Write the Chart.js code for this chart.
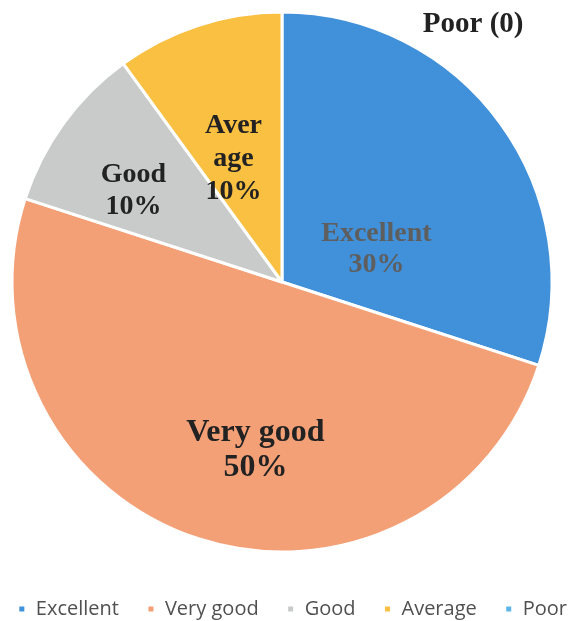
<!DOCTYPE html>
<html>
<head>
<meta charset="utf-8">
<script src="https://cdn.jsdelivr.net/npm/chart.js@4"></script>
<style>
  html, body { margin: 0; padding: 0; background: #fff; overflow: hidden; }
  /* canvas is a bit larger than the page so the pie and legend line up like the original */
  #wrap { position: absolute; left: -31px; top: -7px; width: 626px; height: 636px; }
</style>
</head>
<body>
<div id="wrap"><canvas id="myChart"></canvas></div>
<script>
const categories = ['Excellent', 'Very good', 'Good', 'Average', 'Poor'];
const shares = [30, 50, 10, 10, 0];
const colors = ['#4190DA', '#F4A077', '#C9CBCB', '#F9C042', '#5DB4E8'];
const sliceLabels = [['Excellent', '30%'], ['Very good', '50%'], ['Good', '10%'], ['Aver', 'age', '10%'], []];

// label placement: angle shift (deg) and distance (fraction of radius)
const labelStyle = [
  { shift: 17, dist: 0.37, size: 28, lh: 31, color: '#5e5e5e' },
  { shift: -9, dist: 0.63, size: 32, lh: 35, color: '#222' },
  { shift: -4.5, dist: 0.645, size: 28, lh: 32, color: '#222' },
  { shift: -3.5, dist: 0.49, size: 28, lh: 33, color: '#222' },
  null
];

const sliceText = {
  id: 'sliceText',
  afterDatasetsDraw(chart) {
    const c = chart.ctx;
    const meta = chart.getDatasetMeta(0);
    meta.data.forEach((arc, i) => {
      const st = labelStyle[i];
      if (!st || !sliceLabels[i].length) return;
      const p = arc.getProps(['x', 'y', 'startAngle', 'endAngle', 'outerRadius'], true);
      const mid = (p.startAngle + p.endAngle) / 2 + st.shift * Math.PI / 180;
      const r = p.outerRadius * st.dist;
      const cx = p.x + Math.cos(mid) * r;
      const cy = p.y + Math.sin(mid) * r;
      c.save();
      c.font = 'bold ' + st.size + 'px "Liberation Serif", serif';
      c.fillStyle = st.color;
      c.textAlign = 'center';
      c.textBaseline = 'middle';
      const lines = sliceLabels[i];
      lines.forEach((t, k) => {
        c.fillText(t, cx, cy + (k - (lines.length - 1) / 2) * st.lh);
      });
      c.restore();
    });
    // zero slice gets an outside note
    const poor = meta.data[4].getProps(['x', 'y', 'outerRadius'], true);
    c.save();
    c.font = 'bold 29px "Liberation Serif", serif';
    c.fillStyle = '#222';
    c.textAlign = 'center';
    c.textBaseline = 'middle';
    c.fillText(categories[4] + ' (' + shares[4] + ')', poor.x + poor.outerRadius * 0.708, poor.y - poor.outerRadius * 0.955);
    c.restore();
  }
};

const ctx = document.getElementById('myChart');

const myChart = new Chart(ctx, {
  type: 'pie',
  data: {
    labels: categories,
    datasets: [{
      data: shares,
      backgroundColor: colors,
      borderColor: '#fff',
      borderWidth: 3,
      radius: 270
    }]
  },
  options: {
    responsive: true,
    maintainAspectRatio: false,
    animation: false,
    layout: {
      padding: 0
    },
    plugins: {
      legend: {
        position: 'bottom',
        align: 'end',
        labels: {
          boxWidth: 8,
          boxHeight: 8,
          padding: 28,
          color: '#505050',
          font: { family: '"Open Sans", sans-serif', size: 20 }
        }
      },
      tooltip: { enabled: false }
    }
  },
  plugins: [sliceText]
});
</script>
</body>
</html>
